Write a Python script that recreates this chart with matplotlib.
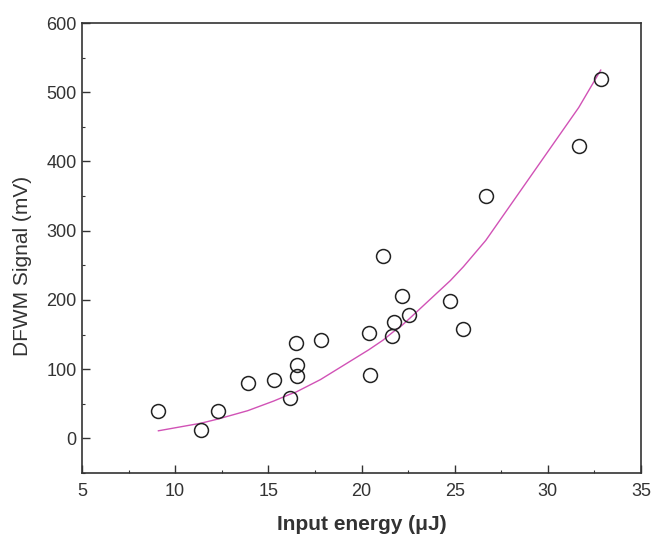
import numpy as np
import matplotlib
matplotlib.use("Agg")
import matplotlib.pyplot as plt
from matplotlib.ticker import MultipleLocator

plt.rcParams['font.family'] = ['Liberation Sans', 'DejaVu Sans']

# measured DFWM signal vs. input pulse energy
energy = [9.10, 11.39, 12.30, 13.89, 15.29, 16.18, 16.49, 16.56, 16.56, 17.80,
          20.39, 20.48, 21.16, 21.66, 21.77, 22.16, 22.57, 24.77, 25.47, 26.67,
          31.66, 32.84]
signal = [40, 12, 40, 80, 85, 58, 138, 106, 90, 142,
          152, 92, 264, 148, 168, 206, 178, 198, 158, 350,
          423, 519]

# fitted curve evaluated at the measured energies
fit_energy = [9.10, 11.39, 12.30, 13.89, 15.29, 16.18, 16.49, 17.80, 20.39,
              21.16, 21.66, 22.16, 22.57, 24.77, 25.47, 26.67, 31.66, 32.84]
fit_signal = [11, 22, 28, 40, 54, 64, 67, 85, 128,
              142, 153, 163, 173, 228, 248, 286, 478, 532]

ink = '#333333'

fig = plt.figure(figsize=(6.53, 5.34), dpi=100)
ax = fig.add_axes([0.1256, 0.1142, 0.8560, 0.8427])

ax.plot(fit_energy, fit_signal, color='#d152b6', lw=1.0, zorder=2)
ax.plot(energy, signal, 'o', ms=10, mfc='none', mec='#222222', mew=1.1, zorder=3)

ax.set_xlim(5, 35)
ax.set_ylim(-50, 600)
ax.xaxis.set_major_locator(MultipleLocator(5))
ax.xaxis.set_minor_locator(MultipleLocator(2.5))
ax.yaxis.set_major_locator(MultipleLocator(100))
ax.yaxis.set_minor_locator(MultipleLocator(50))

for s in ax.spines.values():
    s.set_color(ink)
    s.set_linewidth(1.2)
ax.tick_params(which='both', direction='in', color=ink, labelcolor=ink,
               labelsize=13, top=False, right=False)
ax.tick_params(which='major', length=6, width=1.0)
ax.tick_params(which='minor', length=2, width=0.8)
ax.tick_params(axis='x', pad=7)
ax.tick_params(axis='y', pad=4)

ax.set_xlabel('Input energy (μJ)', fontsize=15, fontweight='bold', color=ink)
ax.set_ylabel('DFWM Signal (mV)', fontsize=15, color=ink)
ax.xaxis.set_label_coords(0.5, -0.093)
ax.yaxis.set_label_coords(-0.09, 0.461)

fig.savefig('out.png', dpi=100)
